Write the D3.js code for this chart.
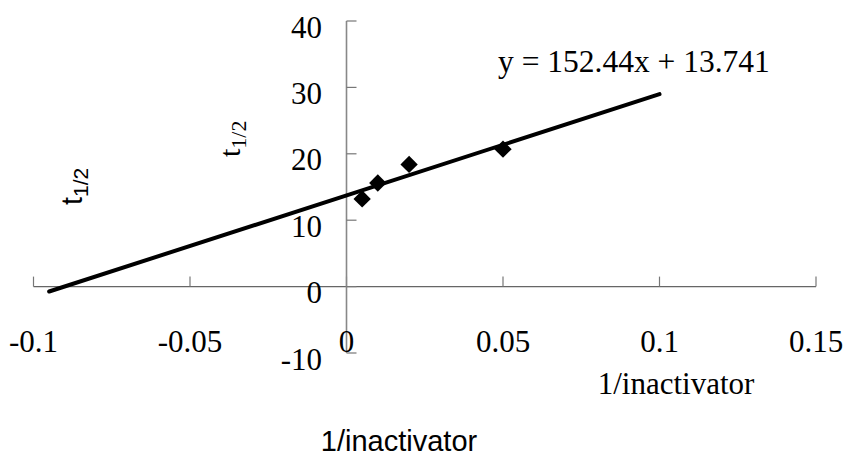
<!DOCTYPE html>
<html>
<head>
<meta charset="utf-8">
<script src="https://cdn.jsdelivr.net/npm/d3@7"></script>
<style>
  html, body { margin: 0; padding: 0; background: #fff; }
  svg { display: block; }
</style>
</head>
<body>
<svg id="chart" width="848" height="456"></svg>
<script>
// Data
const xValues = [0.005, 0.01, 0.02, 0.05];
const yValues = [13.2, 15.6, 18.4, 20.7];
const slope = 152.44;
const intercept = 13.741;
const trendRange = [-0.095, 0.1];
const xTicks = [-0.1, -0.05, 0, 0.05, 0.1, 0.15];
const xTickLabels = ["-0.1", "-0.05", "0", "0.05", "0.1", "0.15"];
const yTicks = [-10, 0, 10, 20, 30, 40];
const yTickLabels = ["-10", "0", "10", "20", "30", "40"];
const equationText = "y = 152.44x + 13.741";
const xTitle = "1/inactivator";

const svg = d3.select("#chart");
const serif = "'Liberation Serif', 'Times New Roman', serif";
const sans = "'Liberation Sans', Arial, sans-serif";

const x = d3.scaleLinear().domain([-0.1, 0.15]).range([33.5, 816]);
const y = d3.scaleLinear().domain([-10, 40]).range([353, 21]);

// X axis (at y=0), ticks pointing up
const xAxisG = svg.append("g").attr("transform", `translate(0,${y(0)})`);
xAxisG.append("line").attr("x1", x(-0.1)).attr("x2", x(0.15)).attr("y1", 0).attr("y2", 0)
  .attr("stroke", "#666").attr("stroke-width", 1.2);
xAxisG.selectAll("line.tick").data(xTicks).enter().append("line")
  .attr("class", "tick")
  .attr("x1", d => x(d)).attr("x2", d => x(d)).attr("y1", 0).attr("y2", -10)
  .attr("stroke", "#777").attr("stroke-width", 1.2);

// Y axis (at x=0), ticks pointing right
const yAxisG = svg.append("g").attr("transform", `translate(${x(0)},0)`);
yAxisG.append("line").attr("x1", 0).attr("x2", 0).attr("y1", y(-10)).attr("y2", y(40))
  .attr("stroke", "#888").attr("stroke-width", 1.6);
yAxisG.selectAll("line.tick").data(yTicks).enter().append("line")
  .attr("class", "tick")
  .attr("x1", 0).attr("x2", 10).attr("y1", d => y(d)).attr("y2", d => y(d))
  .attr("stroke", "#777").attr("stroke-width", 1.2);

// Tick labels
svg.append("g").selectAll("text").data(xTicks).enter().append("text")
  .attr("x", d => x(d)).attr("y", 352)
  .attr("text-anchor", "middle")
  .attr("font-family", serif).attr("font-size", 31).attr("fill", "#000")
  .text((d, i) => xTickLabels[i]);

svg.append("g").selectAll("text").data(yTicks).enter().append("text")
  .attr("x", 322).attr("y", d => y(d) + 16.5)
  .attr("text-anchor", "end")
  .attr("font-family", serif).attr("font-size", 31).attr("fill", "#000")
  .text((d, i) => yTickLabels[i]);

// Trendline
const line = d3.line().x(d => x(d)).y(d => y(slope * d + intercept));
svg.append("path").datum(trendRange).attr("d", line)
  .attr("fill", "none").attr("stroke", "#000").attr("stroke-width", 4)
  .attr("stroke-linecap", "round");

// Data markers (diamonds)
const sq = d3.symbol().type(d3.symbolSquare).size(150);
svg.append("g").selectAll("path").data(xValues).enter().append("path")
  .attr("d", sq)
  .attr("transform", (d, i) => `translate(${x(d)},${y(yValues[i])}) rotate(45)`)
  .attr("fill", "#000");

// Equation
svg.append("text").attr("x", 498).attr("y", 72)
  .attr("font-family", serif).attr("font-size", 31.5).attr("fill", "#000")
  .text(equationText);

// Axis title (serif)
svg.append("text").attr("x", 676).attr("y", 394)
  .attr("text-anchor", "middle")
  .attr("font-family", serif).attr("font-size", 31).attr("fill", "#000")
  .text(xTitle);

// Axis title (sans) at bottom
svg.append("text").attr("x", 399).attr("y", 451)
  .attr("text-anchor", "middle")
  .attr("font-family", sans).attr("font-size", 29).attr("fill", "#000")
  .text(xTitle);

// t1/2 labels (rotated)
function tLabel(px, py, fam, fs, ss) {
  const t = svg.append("text")
    .attr("transform", `translate(${px},${py}) rotate(-90)`)
    .attr("font-family", fam).attr("font-size", fs).attr("fill", "#000");
  t.append("tspan").text("t");
  t.append("tspan").attr("font-size", ss).attr("dy", 6).text("1/2");
}
tLabel(82, 205, sans, 29, 21);
tLabel(240, 157, serif, 30, 22);
</script>
</body>
</html>
